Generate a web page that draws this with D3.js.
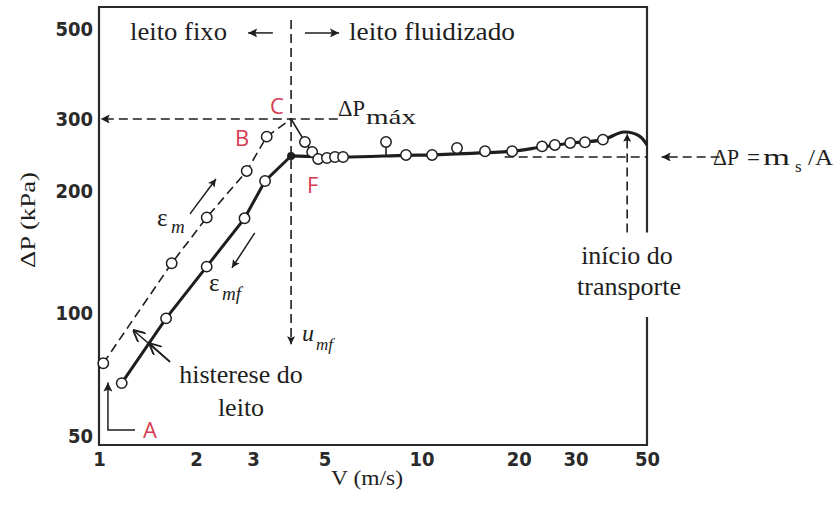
<!DOCTYPE html>
<html><head><meta charset="utf-8">
<script src="https://cdn.jsdelivr.net/npm/d3@7"></script>
<style>body{margin:0;background:#fff}svg{display:block}</style>
</head><body>
<svg id="c" width="837" height="512"></svg>
<script>
// ---- data (V in m/s, ΔP in kPa) ----
const xTicks = [1, 2, 3, 5, 10, 20, 30, 50];
const yTicks = [50, 100, 200, 300, 500];
// increasing velocity, fixed bed (dashed, ε_m)
const fixedUp = [[1.031, 75.4], [1.68, 132.7], [2.158, 171.9], [2.871, 223.6], [3.311, 271.5]];
const pointC = [3.94, 300];
// decreasing velocity, fixed bed (solid, ε_mf)
const fixedDown = [[1.176, 67.4], [1.614, 97.2], [2.157, 130.2], [2.826, 171.1], [3.272, 211.3]];
const pointF = [3.94, 243.4];
// drop after ΔP max
const maxDrop = [[4.35, 263.5], [4.58, 249], [4.78, 239.3]];
// fluidized bed points
const fluidPts = [[5.09, 240.6], [5.39, 242], [5.71, 242], [7.76, 263.5], [8.95, 244.8], [10.78, 244.8],
  [12.88, 254.6], [15.73, 250], [19.09, 250], [23.64, 257], [25.9, 259], [28.9, 262], [32.1, 263], [36.5, 267]];
// fluidized curve incl. transport hump
const fluidLine = [[3.94, 243.4], [5.71, 242], [8.95, 244.3], [10.78, 244.8], [15.73, 248], [19.09, 250],
  [23.64, 256], [28.9, 261.5], [36.5, 267], [42.4, 278.7], [47.5, 272], [50, 259]];
const umf = 3.94;
const dPmax = 300;
const dPms = 242;
const vTransport = 43.4;

// ---- scales ----
const x = d3.scaleLog().domain([1, 50]).range([99, 647]);
const y = d3.scaleLog().domain([47.5, 565]).range([445, 7]);

const svg = d3.select('#c');
const ink = '#1e1e1e';
const red = '#d63a50';
const serif = "'Liberation Serif','Times New Roman',serif";

const defs = svg.append('defs');
function marker(id, w, h) {
  defs.append('marker').attr('id', id).attr('viewBox', '0 0 10 10').attr('refX', 10).attr('refY', 5)
    .attr('markerWidth', w).attr('markerHeight', h).attr('markerUnits', 'userSpaceOnUse').attr('orient', 'auto')
    .append('path').attr('d', 'M0,0 L10,5 L0,10 L2,5 Z').attr('fill', ink);
}
marker('arr', 13, 9);
marker('arrS', 10, 8);
defs.append('marker').attr('id', 'open').attr('viewBox', '0 0 10 10').attr('refX', 10).attr('refY', 5)
  .attr('markerWidth', 12).attr('markerHeight', 12).attr('markerUnits', 'userSpaceOnUse').attr('orient', 'auto')
  .append('path').attr('d', 'M0,0 L10,5 L0,10').attr('fill', 'none').attr('stroke', ink).attr('stroke-width', 1.6);

// ---- frame ----
const [x0, x1] = x.range();
const [yb, yt] = y.range();
const frame = svg.append('g').attr('stroke', '#2a2a2a').attr('stroke-width', 2.2).attr('fill', 'none');
frame.append('path').attr('d', `M${x1},${y(158)} L${x1},${yt} L${x0},${yt} L${x0},${yb} L${x1},${yb} L${x1},${y(98)}`);

// ---- axes ----
const tickFont = "'DejaVu Sans Condensed','Liberation Sans Narrow','Arial Narrow','Liberation Sans',sans-serif";
const ga = svg.append('g').attr('transform', `translate(${x0},0)`)
  .call(d3.axisLeft(y).tickValues(yTicks).tickFormat(d3.format('d')).tickSize(0).tickPadding(6));
ga.select('.domain').remove();
ga.selectAll('text').attr('font-family', tickFont).attr('font-size', 20).attr('font-weight', 'bold').attr('fill', '#2a2a2a');
const gb = svg.append('g').attr('transform', `translate(0,${yb})`)
  .call(d3.axisBottom(x).tickValues(xTicks).tickFormat(d3.format('d')).tickSize(0).tickPadding(7));
gb.select('.domain').remove();
gb.selectAll('text').attr('font-family', tickFont).attr('font-size', 20).attr('font-weight', 'bold').attr('fill', '#2a2a2a');

svg.append('text').attr('x', 331).attr('y', 485)
  .attr('font-family', serif).attr('font-size', 22).attr('fill', ink)
  .attr('textLength', 72).attr('lengthAdjust', 'spacingAndGlyphs').text('V (m/s)');
svg.append('text').attr('transform', 'translate(35,268) rotate(-90)')
  .attr('font-family', serif).attr('font-size', 21).attr('fill', ink)
  .attr('textLength', 96).attr('lengthAdjust', 'spacingAndGlyphs').text('ΔP (kPa)');

const line = d3.line().x(d => x(d[0])).y(d => y(d[1]));

// ---- reference dashed lines ----
const dash = svg.append('g').attr('fill', 'none').attr('stroke', ink).attr('stroke-width', 1.6).attr('stroke-dasharray', '9,5');
dash.append('path').attr('d', line([[5.5, dPmax], [1.012, dPmax]])).attr('marker-end', 'url(#arr)');
dash.append('path').attr('d', line([[umf, 525], [umf, 84]])).attr('marker-end', 'url(#arrS)');
dash.append('path').attr('d', line([[18.1, dPms], [50, dPms]]));
dash.append('path').attr('d', line([[84, dPms], [55.5, dPms]])).attr('marker-end', 'url(#arr)');
dash.append('path').attr('d', line([[vTransport, 158], [vTransport, 276]])).attr('marker-end', 'url(#arrS)');
// fixed bed, increasing velocity
dash.append('path').attr('d', line([...fixedUp, pointC]));

// ---- solid curves ----
svg.append('path').attr('d', line([...fixedDown, pointF])).attr('fill', 'none').attr('stroke', ink).attr('stroke-width', 3);
svg.append('path').attr('d', line.curve(d3.curveCatmullRom)(fluidLine)).attr('fill', 'none').attr('stroke', ink).attr('stroke-width', 3.2);
line.curve(d3.curveLinear);
svg.append('path').attr('d', line([pointC, ...maxDrop, fluidPts[0]])).attr('fill', 'none').attr('stroke', ink).attr('stroke-width', 1.6);
// stem for raised point
svg.append('path').attr('d', line([[7.76, 263.5], [7.76, 244.5]])).attr('stroke', ink).attr('stroke-width', 1.6);
svg.append('circle').attr('cx', x(pointF[0])).attr('cy', y(pointF[1])).attr('r', 4).attr('fill', ink);

// ---- circles ----
const pts = [...fixedUp, ...fixedDown, ...maxDrop, ...fluidPts];
svg.append('g').selectAll('circle').data(pts).join('circle')
  .attr('cx', d => x(d[0])).attr('cy', d => y(d[1])).attr('r', 5.2)
  .attr('fill', '#fff').attr('stroke', ink).attr('stroke-width', 1.5);

// ---- annotation arrows ----
const ann = svg.append('g').attr('fill', 'none').attr('stroke', ink).attr('stroke-width', 1.5);
ann.append('path').attr('d', line([[3.46, 488], [2.9, 488]])).attr('marker-end', 'url(#arr)');
ann.append('path').attr('d', line([[4.35, 488], [5.55, 488]])).attr('marker-end', 'url(#arr)');
ann.append('path').attr('d', line([[1.915, 175.4], [2.305, 213.7]])).attr('marker-end', 'url(#arrS)');
ann.append('path').attr('d', line([[3.04, 157.5], [2.583, 129.3]])).attr('marker-end', 'url(#arrS)');
ann.append('path').attr('d', line([[1.293, 51.7], [1.066, 51.7], [1.066, 67.6]])).attr('marker-end', 'url(#arr)');
ann.append('path').attr('d', line([[1.66, 76], [1.275, 91]])).attr('marker-end', 'url(#open)');
ann.append('path').attr('d', line([[1.66, 76], [1.43, 84.5]])).attr('marker-end', 'url(#open)');

// ---- text annotations ----
function t(xp, yp, s, size, opts = {}) {
  const el = svg.append('text').attr('x', xp).attr('y', yp).attr('font-family', opts.font || serif)
    .attr('font-size', size).attr('fill', opts.fill || ink).attr('text-anchor', opts.anchor || 'start')
    .attr('font-style', opts.italic ? 'italic' : null).text(s);
  if (opts.len) el.attr('textLength', opts.len).attr('lengthAdjust', 'spacingAndGlyphs');
  return el;
}
t(130, 40, 'leito fixo', 26, { len: 97 });
t(349, 40, 'leito fluidizado', 26, { len: 166 });
t(338, 116, 'ΔP', 23, { len: 27 });
t(366, 124, 'máx', 21, { len: 50 });
t(241, 383, 'histerese do', 26, { anchor: 'middle' });
t(241, 416, 'leito', 26, { anchor: 'middle' });
const tb = svg.append('g');
tb.append('rect').attr('x', 576).attr('y', 240).attr('width', 110).attr('height', 64).attr('fill', '#fff');
t(627, 264, 'início do', 26, { anchor: 'middle' });
t(629, 295, 'transporte', 26, { anchor: 'middle' });
t(713, 165, 'ΔP', 23, { len: 26 });
t(747, 165, '=', 23);
t(763, 165, 'm', 24, { len: 27 });
t(795, 172, 's', 17);
t(808, 165, '/A', 23, { len: 25 });
t(157, 226, 'ε', 25);
t(171, 233, 'm', 19, { italic: true });
t(209, 291, 'ε', 25);
t(222, 300, 'mf', 19, { italic: true });
t(302, 341, 'u', 24, { italic: true });
t(316, 350, 'mf', 17, { italic: true });
const sans = "'Open Sans','Liberation Sans',sans-serif";
t(270, 114, 'C', 22, { font: sans, fill: red });
t(235, 146, 'B', 22, { font: sans, fill: red });
t(307, 193, 'F', 22, { font: sans, fill: red });
t(143, 438, 'A', 22, { font: sans, fill: red });
</script>
</body></html>
